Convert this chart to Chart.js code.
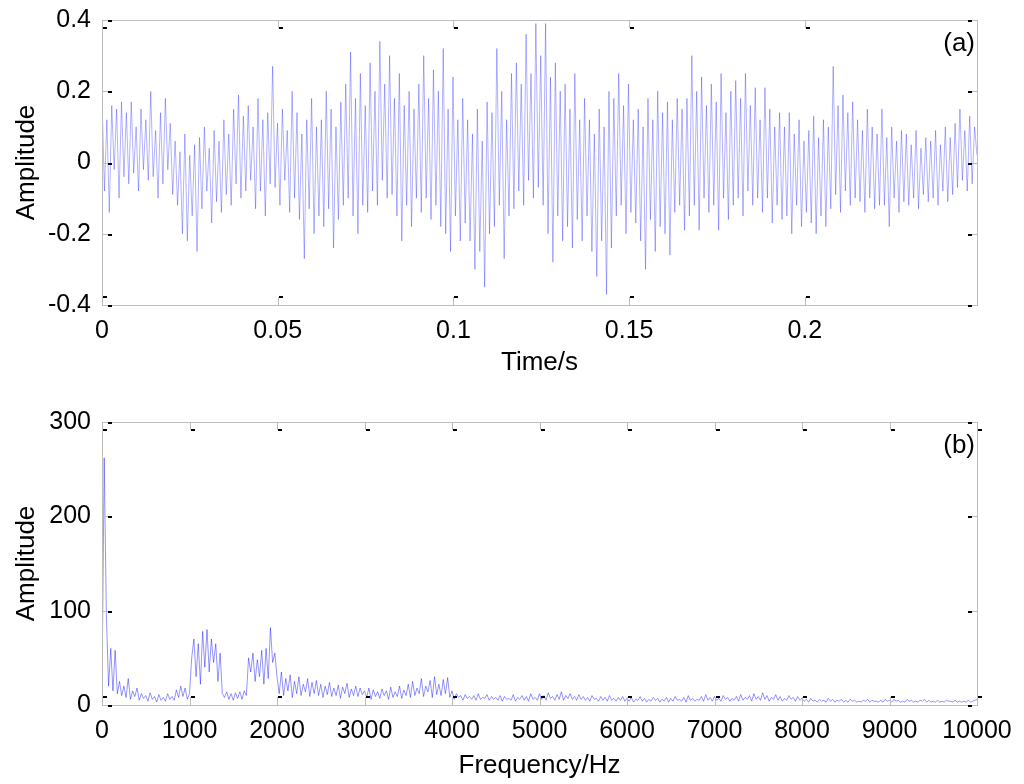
<!DOCTYPE html>
<html>
<head>
<meta charset="utf-8">
<script src="https://cdn.jsdelivr.net/npm/chart.js@4.4.1/dist/chart.umd.min.js"></script>
<style>
  html, body { margin: 0; padding: 0; background: #fff; }
  body { width: 1024px; height: 784px; position: relative; overflow: hidden; }
  .box { position: absolute; left: 0; width: 1024px; }
  #boxA { top: 0; height: 390px; }
  #boxB { top: 390px; height: 394px; }
</style>
</head>
<body>
<div class="box" id="boxA"><canvas id="chartA"></canvas></div>
<div class="box" id="boxB"><canvas id="chartB"></canvas></div>
<script>
// (a) time signal (0 .. 0.249 s)
const timeEnd = 0.249;
const signal = [
  0.18,-0.08,0.12,-0.14,0.16,-0.02,0.15,-0.10,0.17,-0.04,
  0.14,-0.06,0.17,-0.03,0.10,-0.08,0.15,-0.02,0.12,-0.05,
  0.20,-0.04,0.09,-0.10,0.14,-0.06,0.18,-0.02,0.11,-0.09,
  0.06,-0.12,0.03,-0.20,0.08,-0.22,0.02,-0.15,0.05,-0.25,
  0.07,-0.13,0.10,-0.08,0.04,-0.17,0.09,-0.11,0.06,-0.14,
  0.12,-0.09,0.08,-0.12,0.15,-0.06,0.19,-0.10,0.13,-0.08,
  0.16,-0.05,0.10,-0.13,0.18,-0.08,0.12,-0.15,0.14,-0.06,
  0.27,-0.07,0.11,-0.12,0.15,-0.05,0.09,-0.14,0.20,-0.10,
  0.14,-0.16,0.08,-0.27,0.12,-0.13,0.18,-0.20,0.10,-0.15,
  0.12,-0.18,0.20,-0.13,0.15,-0.24,0.10,-0.16,0.17,-0.12,
  0.22,-0.10,0.31,-0.15,0.18,-0.20,0.25,-0.12,0.16,-0.14,
  0.28,-0.08,0.20,-0.12,0.34,-0.05,0.22,-0.10,0.30,-0.09,
  0.18,-0.15,0.25,-0.22,0.16,-0.12,0.20,-0.18,0.15,-0.10,
  0.22,-0.14,0.30,-0.10,0.18,-0.16,0.26,-0.12,0.20,-0.18,
  0.32,-0.20,0.15,-0.25,0.24,-0.15,0.12,-0.22,0.18,-0.17,
  0.12,-0.22,0.08,-0.30,0.15,-0.25,0.06,-0.35,0.17,-0.20,
  0.14,-0.18,0.32,-0.12,0.20,-0.27,0.12,-0.15,0.25,-0.13,
  0.28,-0.08,0.22,-0.12,0.36,-0.05,0.25,-0.10,0.39,-0.07,
  0.30,-0.12,0.39,-0.20,0.24,-0.28,0.28,-0.15,0.20,-0.22,
  0.22,-0.18,0.15,-0.24,0.25,-0.16,0.12,-0.22,0.18,-0.15,
  0.12,-0.25,0.08,-0.32,0.15,-0.22,0.10,-0.37,0.20,-0.24,
  0.18,-0.15,0.25,-0.12,0.16,-0.20,0.22,-0.14,0.12,-0.17,
  0.15,-0.22,0.10,-0.30,0.18,-0.16,0.12,-0.25,0.20,-0.18,
  0.14,-0.20,0.17,-0.26,0.12,-0.14,0.18,-0.12,0.15,-0.19,
  0.18,-0.15,0.30,-0.12,0.20,-0.19,0.24,-0.10,0.16,-0.14,
  0.22,-0.12,0.17,-0.19,0.25,-0.10,0.14,-0.16,0.20,-0.12,
  0.23,-0.10,0.18,-0.15,0.25,-0.08,0.16,-0.12,0.21,-0.10,
  0.12,-0.14,0.21,-0.10,0.15,-0.17,0.10,-0.12,0.14,-0.16,
  0.10,-0.15,0.14,-0.20,0.08,-0.12,0.12,-0.18,0.06,-0.14,
  0.09,-0.17,0.13,-0.20,0.07,-0.15,0.12,-0.18,0.10,-0.13,
  0.27,-0.09,0.16,-0.14,0.19,-0.08,0.14,-0.12,0.17,-0.10,
  0.12,-0.11,0.09,-0.14,0.15,-0.10,0.10,-0.13,0.08,-0.12,
  0.15,-0.12,0.07,-0.18,0.10,-0.10,0.06,-0.14,0.09,-0.11,
  0.08,-0.12,0.05,-0.10,0.09,-0.13,0.04,-0.09,0.07,-0.11,
  0.06,-0.10,0.09,-0.12,0.05,-0.08,0.10,-0.11,0.07,-0.09,
  0.11,-0.07,0.15,-0.05,0.09,-0.08,0.13,-0.06,0.10,0.02
];
const timeTicks = [0, 0.05, 0.1, 0.15, 0.2];
const ampTicksA = [-0.4, -0.2, 0, 0.2, 0.4];

// (b) amplitude spectrum, one value every 25 Hz (0 .. 10000 Hz)
const freqStep = 25;
const spectrum = [
  15,262,95,20,60,15,58,12,25,10,20,8,28,6,15,9,18,5,12,7,
  10,4,13,6,9,3,11,5,8,4,12,6,9,5,16,8,20,9,18,6,
  12,50,70,30,65,22,78,40,80,35,70,45,65,25,55,12,8,14,6,12,
  5,13,7,14,6,15,10,50,35,55,25,48,30,58,22,60,28,82,45,55,
  30,12,35,10,28,15,32,8,25,12,30,10,22,14,28,9,24,12,26,10,
  22,8,20,11,24,9,18,10,21,7,19,12,23,8,17,10,20,9,18,11,
  15,8,18,6,16,9,14,7,17,10,15,6,19,8,14,9,20,7,16,10,
  22,8,25,10,18,12,28,9,20,14,26,8,30,11,22,10,27,12,29,8,
  15,6,12,8,10,5,11,7,9,6,10,5,12,6,8,7,11,5,9,6,
  8,5,10,4,9,6,7,5,11,4,8,6,10,5,9,4,12,6,8,5,
  12,6,10,5,13,7,9,5,11,6,14,5,10,7,12,6,9,5,11,6,
  9,5,8,4,10,6,7,4,9,5,8,4,10,5,7,4,8,5,9,4,
  7,4,8,3,6,5,9,4,7,3,6,4,8,5,7,3,6,4,8,3,
  7,4,9,5,6,4,8,3,10,5,7,4,6,5,9,4,11,5,8,4,
  9,5,7,4,10,6,8,4,7,5,9,4,11,5,8,6,10,4,12,6,
  9,5,13,6,10,4,8,6,11,5,9,4,7,5,10,6,8,4,9,5,
  7,4,6,3,7,4,5,3,6,4,5,3,7,4,6,3,5,4,6,3,
  5,3,6,4,5,3,4,3,5,4,6,3,5,4,4,3,5,3,6,4,
  5,3,6,4,5,3,4,3,6,4,5,3,4,3,5,4,6,3,5,3,
  4,3,5,3,4,3,5,4,4,3,5,3,4,3,4,3,5,3,4,5,
  6
];
const freqTicks = [0, 1000, 2000, 3000, 4000, 5000, 6000, 7000, 8000, 9000, 10000];
const ampTicksB = [0, 100, 200, 300];

const FAMILY = '"Liberation Sans", Arial, sans-serif';
const TICK_FONT = { family: FAMILY, size: 25 };
const TITLE_FONT = { family: FAMILY, size: 26 };

// gray box, inward ticks with the little black marks, panel tag
const framePlugin = {
  id: 'frame',
  afterDraw(chart, args, opts) {
    const { ctx, chartArea: a, scales } = chart;
    ctx.save();
    ctx.strokeStyle = '#bdbdbd';
    ctx.lineWidth = 1;
    ctx.strokeRect(a.left + 0.5, a.top + 0.5, a.right - a.left, a.bottom - a.top);
    ctx.beginPath();
    scales.x.ticks.forEach(t => {
      const px = Math.round(scales.x.getPixelForValue(t.value)) + 0.5;
      ctx.moveTo(px, a.bottom); ctx.lineTo(px, a.bottom - 8);
      ctx.moveTo(px, a.top); ctx.lineTo(px, a.top + 8);
    });
    scales.y.ticks.forEach(t => {
      const py = Math.round(scales.y.getPixelForValue(t.value)) + 0.5;
      ctx.moveTo(a.left, py); ctx.lineTo(a.left + 8, py);
      ctx.moveTo(a.right, py); ctx.lineTo(a.right - 8, py);
    });
    ctx.stroke();
    ctx.fillStyle = '#000';
    scales.x.ticks.forEach(t => {
      const px = Math.round(scales.x.getPixelForValue(t.value));
      ctx.fillRect(px + 1, a.bottom - 9, 4, 2);
      ctx.fillRect(px + 1, a.top + 7, 4, 2);
    });
    scales.y.ticks.forEach(t => {
      const py = Math.round(scales.y.getPixelForValue(t.value));
      ctx.fillRect(a.left + 6, py, 4, 2);
      ctx.fillRect(a.right - 9, py, 4, 2);
    });
    ctx.font = TITLE_FONT.size + 'px ' + FAMILY;
    ctx.textAlign = 'right';
    ctx.textBaseline = 'middle';
    ctx.fillText(opts.tag, a.right - 2, a.top + 24);
    ctx.restore();
  }
};

function axis(ticks, min, max, extra) {
  return Object.assign({
    type: 'linear', min, max,
    grid: { display: false },
    border: { display: false },
    afterBuildTicks: s => { s.ticks = ticks.map(v => ({ value: v })); },
    ticks: { color: '#000', font: TICK_FONT, maxRotation: 0, autoSkip: false, callback: v => String(v) }
  }, extra);
}

function makeChart(id, points, color, xTicks, xMin, xMax, xTitle, yTicks, yMin, yMax, tag, padTop, xHeight, xTitlePad) {
  return new Chart(document.getElementById(id), {
    type: 'line',
    data: { datasets: [{ data: points, borderColor: color, borderWidth: 1, pointRadius: 0, tension: 0, fill: false }] },
    options: {
      responsive: true, maintainAspectRatio: false, animation: false,
      devicePixelRatio: 1,
      layout: { padding: { top: padTop, right: 47, left: 0, bottom: 0 } },
      plugins: { legend: { display: false }, tooltip: { enabled: false }, frame: { tag } },
      scales: {
        x: axis(xTicks, xMin, xMax, {
          afterFit: s => { s.height = xHeight; },
          title: { display: true, text: xTitle, color: '#000', font: TITLE_FONT, padding: { top: 0, bottom: xTitlePad } }
        }),
        y: axis(yTicks, yMin, yMax, {
          afterFit: s => { s.width = 102; },
          title: { display: true, text: 'Amplitude', color: '#000', font: TITLE_FONT, padding: { top: 11, bottom: 0 } }
        })
      }
    },
    plugins: [framePlugin]
  });
}

const dt = timeEnd / (signal.length - 1);
const ptsA = signal.map((v, i) => ({ x: i * dt, y: v }));
const ptsB = spectrum.map((v, i) => ({ x: i * freqStep, y: v }));

makeChart('chartA', ptsA, 'rgba(0,0,255,0.3)', timeTicks, 0, timeEnd, 'Time/s', ampTicksA, -0.4, 0.4, '(a)', 20, 85, 12);
makeChart('chartB', ptsB, 'rgba(0,0,255,0.42)', freqTicks, 0, 10000, 'Frequency/Hz', ampTicksB, 0, 300, '(b)', 32, 79, 3);
</script>
</body>
</html>
